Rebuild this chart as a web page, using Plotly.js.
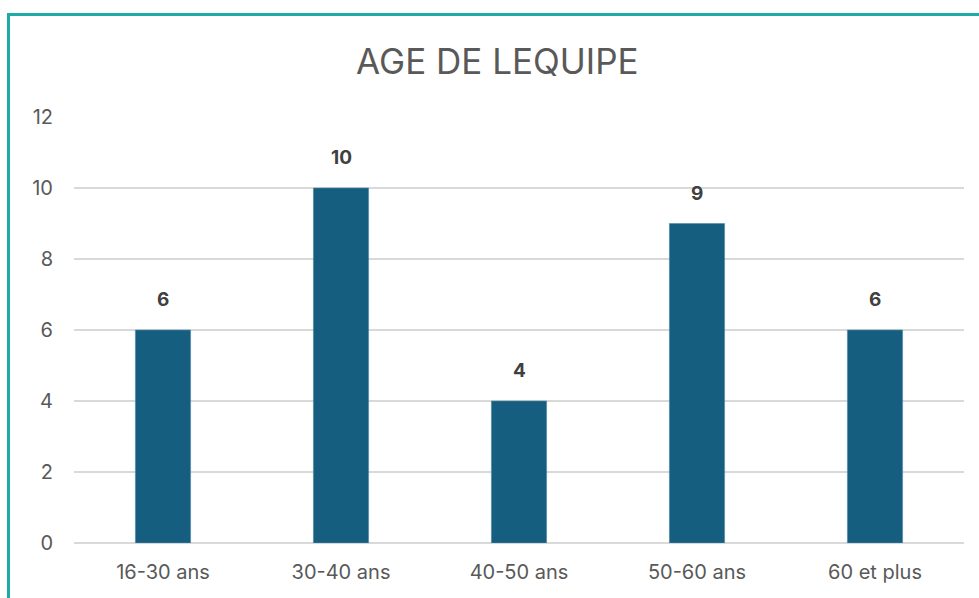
<!DOCTYPE html>
<html>
<head>
<meta charset="utf-8">
<script src="https://cdn.plot.ly/plotly-3.0.1.min.js"></script>
<style>
html,body{margin:0;padding:0;background:#fff;overflow:hidden;}
#chart{width:979px;height:598px;position:absolute;left:0;top:0;}
#frame{position:absolute;left:7px;top:13px;width:1000px;height:700px;border-left:3px solid #1eaaa7;border-top:3px solid #1eaaa7;pointer-events:none;box-sizing:border-box;}
</style>
</head>
<body>
<div id="chart"></div>
<div id="frame"></div>
<script>
const categories = ["16-30 ans", "30-40 ans", "40-50 ans", "50-60 ans", "60 et plus"];
const values = [6, 10, 4, 9, 6];
const yTicks = [0, 2, 4, 6, 8, 10, 12];
const chartTitle = "AGE DE LEQUIPE";

const font = "Inter, 'Open Sans', sans-serif";

const trace = {
  type: "bar",
  x: categories,
  y: values,
  marker: {color: "#165e80", line: {color: "#4f89a6", width: 0.6}},
  hoverinfo: "x+y"
};

const annotations = categories.map((c, i) => ({
  x: c, y: values[i], xref: "x", yref: "y",
  text: String(values[i]),
  showarrow: false,
  yanchor: "bottom",
  yshift: 17,
  font: {family: font, size: 19, color: "#404040", weight: 700}
}));

const layout = {
  width: 979, height: 598,
  margin: {l: 74, r: 15, t: 117, b: 55},
  paper_bgcolor: "#ffffff",
  plot_bgcolor: "#ffffff",
  showlegend: false,
  bargap: 0.69,
  title: {text: chartTitle, x: 0.508, xanchor: "center", y: 0.897, yanchor: "middle",
          font: {family: font, size: 35, color: "#595959"}},
  xaxis: {
    type: "category",
    showgrid: false, zeroline: false, showline: false,
    ticks: "", ticklabelstandoff: 15,
    tickfont: {family: font, size: 20, color: "#595959"}
  },
  yaxis: {
    range: [0, 12],
    tickvals: yTicks,
    ticktext: yTicks.map(String),
    showgrid: true, gridcolor: "#d9d9d9", gridwidth: 1.3,
    zeroline: true, zerolinecolor: "#d9d9d9", zerolinewidth: 1.3,
    showline: false, ticks: "", ticklabelstandoff: 20,
    tickfont: {family: font, size: 20, color: "#595959"}
  },
  annotations: annotations
};

Plotly.newPlot("chart", [trace], layout, {displayModeBar: false, staticPlot: true});
</script>
</body>
</html>
